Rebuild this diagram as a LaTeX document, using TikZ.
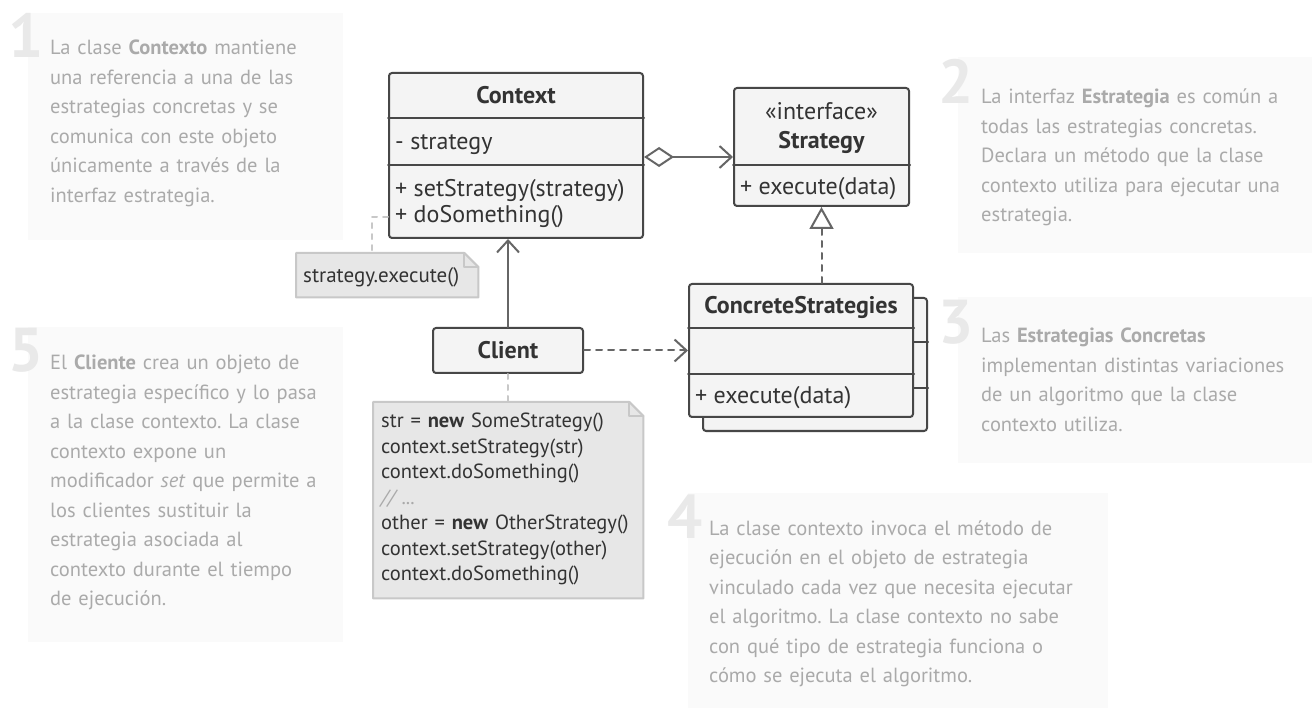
\documentclass[tikz,border=0pt]{standalone}
\usepackage{fontspec}
\setmainfont{PT Sans}
\usetikzlibrary{arrows.meta,positioning}
\definecolor{umlline}{HTML}{474747}
\definecolor{umlfill}{HTML}{F4F4F4}
\definecolor{arr}{HTML}{666666}
\definecolor{txt}{HTML}{333333}
\definecolor{notefill}{HTML}{E7E7E7}
\definecolor{noteline}{HTML}{C8C8C8}
\definecolor{panelbg}{HTML}{FAFAFA}
\definecolor{paneltxt}{HTML}{AAAAAA}
\definecolor{panelnum}{HTML}{E9E9E9}
\frenchspacing
\begin{document}
\begin{tikzpicture}[x=1pt, y=-1pt, line join=round, line cap=round,
	font=\fontsize{24}{28}\selectfont, text=txt,
	>={Straight Barb[length=12pt, width=22pt]},
	panel/.style={fill=panelbg, inner sep=0pt, anchor=north west},
	num/.style={text=panelnum, font=\fontsize{62}{62}\selectfont\bfseries, inner sep=0pt, anchor=base east},
	ptext/.style={text=paneltxt, font=\fontsize{20.5}{29.5}\selectfont, inner sep=0pt, anchor=base west, text width=#1, align=left},
	box/.style={draw=umlline, fill=umlfill, line width=2pt, rounded corners=3pt, inner sep=0pt, anchor=north west},
	sep/.style={draw=umlline, line width=2pt},
	lbl/.style={inner sep=0pt, anchor=base},
	bold/.style={font=\fontsize{24}{28}\selectfont\bfseries},
	mem/.style={inner sep=0pt, anchor=base west},
	link/.style={draw=arr, line width=2pt},
	dashln/.style={dash pattern=on 6pt off 6pt},
	notebox/.style={draw=noteline, fill=notefill, line width=2pt},
	noteln/.style={draw=noteline, line width=2pt, dash pattern=on 5pt off 6pt}]
	% khung
	\fill[white] (0,0) rectangle (1312,708);
	\useasboundingbox (0,0) rectangle (1312,708);
	% chu thich
	\node[panel, minimum width=315pt, minimum height=227pt] (p1) at (28,13) {};
	\node[panel, minimum width=354pt, minimum height=196pt] (p2) at (958,57) {};
	\node[panel, minimum width=354pt, minimum height=166pt] (p3) at (958,297) {};
	\node[panel, minimum width=420pt, minimum height=215pt] (p4) at (688,493) {};
	\node[panel, minimum width=315pt, minimum height=315pt] (p5) at (28,327) {};
	\foreach \n/\x/\y in {1/44/58, 2/974/104, 3/974/344, 4/703/538, 5/44/372}{
		\node[num] (num\n) at (\x,\y) {\n};}
	\node[ptext=300pt] (t1) at (50,55) {La clase \textbf{Contexto} mantiene\\ una referencia a una de las\\ estrategias concretas y se\\ comunica con este objeto\\ únicamente a través de la\\ interfaz estrategia.};
	\node[ptext=330pt] (t2) at (981,104) {La interfaz \textbf{Estrategia} es común a\\ todas las estrategias concretas.\\ Declara un método que la clase\\ contexto utiliza para ejecutar una\\ estrategia.};
	\node[ptext=330pt] (t3) at (981,343) {Las \textbf{Estrategias Concretas}\\ implementan distintas variaciones\\ de un algoritmo que la clase\\ contexto utiliza.};
	\node[ptext=400pt] (t4) at (709,535) {La clase contexto invoca el método de\\ ejecución en el objeto de estrategia\\ vinculado cada vez que necesita ejecutar\\ el algoritmo. La clase contexto no sabe\\ con qué tipo de estrategia funciona o\\ cómo se ejecuta el algoritmo.};
	\node[ptext=300pt] (t5) at (50,370) {El \textbf{Cliente} crea un objeto de\\ estrategia específico y lo pasa\\ a la clase contexto. La clase\\ contexto expone un\\ modificador \textit{set} que permite a\\ los clientes sustituir la\\ estrategia asociada al\\ contexto durante el tiempo\\ de ejecución.};
	% lop Context
	\node[box, minimum width=254pt, minimum height=165pt] (ctx) at (388,72) {};
	\draw[sep] (ctx.west |- 0,118) -- (ctx.east |- 0,118) (ctx.west |- 0,165) -- (ctx.east |- 0,165);
	\node[lbl, bold] (ctxname) at (ctx.north |- 0,104) {Context};
	\node[mem] (ctxattr) at (395,150) {- strategy};
	\node[mem] (ctxop1) at (395,197) {+ setStrategy(strategy)};
	\node[mem] (ctxop2) at (395,223) {+ doSomething()};
	% lop Strategy
	\node[box, minimum width=175pt, minimum height=118pt] (strat) at (733,87) {};
	\draw[sep] (strat.west |- 0,165) -- (strat.east |- 0,165);
	\node[lbl] (stratst) at (strat.north |- 0,120) {«interface»};
	\node[lbl, bold] (stratname) at (strat.north |- 0,149) {Strategy};
	\node[mem] (stratop) at (740,195) {+ execute(data)};
	% lop ConcreteStrategies
	\node[box, minimum width=224pt, minimum height=133pt] (concb) at (702,297) {};
	\draw[sep] (concb.west |- 0,342) -- (concb.east |- 0,342) (concb.west |- 0,388) -- (concb.east |- 0,388);
	\node[box, minimum width=224pt, minimum height=133pt] (conc) at (688,283) {};
	\draw[sep] (conc.west |- 0,328) -- (conc.east |- 0,328) (conc.west |- 0,374) -- (conc.east |- 0,374);
	\node[lbl, bold] (concname) at (conc.north |- 0,314) {ConcreteStrategies};
	\node[mem] (concop) at (695,404) {+ execute(data)};
	% Client
	\node[box, bold, anchor=center, minimum width=150pt, minimum height=45pt] (cli) at (508,350.5) {Client};
	% ghi chu
	\node[inner sep=0pt, minimum width=182pt, minimum height=44pt, anchor=north west] (note1) at (296,253) {};
	\draw[notebox] (note1.north west) -- ([xshift=-14pt]note1.north east) -- ([yshift=-14pt]note1.north east) -- (note1.south east) -- (note1.south west) -- cycle;
	\draw[noteline, line width=2pt] ([xshift=-14pt]note1.north east) |- ([yshift=-14pt]note1.north east);
	\node[mem, font=\fontsize{21}{26}\selectfont] (note1txt) at (303,283) {strategy.execute()};
	\node[inner sep=0pt, minimum width=270pt, minimum height=196pt, anchor=north west] (note2) at (373,402) {};
	\draw[notebox] (note2.north west) -- ([xshift=-14pt]note2.north east) -- ([yshift=-14pt]note2.north east) -- (note2.south east) -- (note2.south west) -- cycle;
	\draw[noteline, line width=2pt] ([xshift=-14pt]note2.north east) |- ([yshift=-14pt]note2.north east);
	\node[inner sep=0pt, anchor=base west, text width=300pt, align=left, font=\fontsize{20.5}{25.5}\selectfont] (note2txt) at (381,428) {str = \textbf{new} SomeStrategy()\\ context.setStrategy(str)\\ context.doSomething()\\ \textcolor{paneltxt}{\itshape // ...}\\ other = \textbf{new} OtherStrategy()\\ context.setStrategy(other)\\ context.doSomething()};
	% noi ghi chu
	\draw[noteln] (ctx.west |- ctxop2.center) -| ([xshift=76pt]note1.north west);
	\draw[noteln] (cli.south) -- (cli.south |- note2.north);
	% quan he
	\draw[link, {Diamond[open, length=30pt, width=20pt]}->] (ctx.east |- 0,157) -- (strat.west |- 0,157);
	\draw[link, ->] (cli.north) -- (cli.north |- ctx.south);
	\draw[link, dashln, ->] (cli.east) -- (cli.east -| conc.west);
	\draw[link, dashln, -{Triangle[open, length=22pt, width=24pt]}] (conc.north -| strat.south) -- (strat.south);
\end{tikzpicture}
\end{document}
